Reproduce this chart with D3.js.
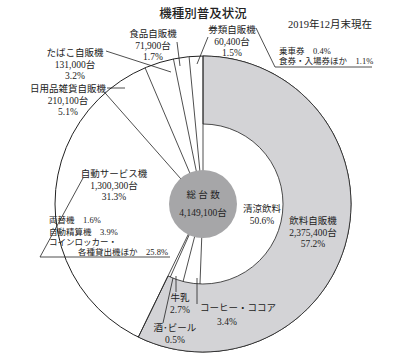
<!DOCTYPE html>
<html>
<head>
<meta charset="utf-8">
<script src="https://cdn.jsdelivr.net/npm/d3@7"></script>
<style>
  body { margin: 0; background: #fff; }
  svg { display: block; }
  text { font-family: "Liberation Serif", "Noto Sans CJK JP", serif; fill: #222; }
  .title { font-family: "Noto Sans CJK JP", sans-serif; font-size: 12.5px; font-weight: 500; }
  .lbl { font-size: 9.5px; }
  .small { font-size: 8.5px; }
  .line { stroke: #222; stroke-width: 0.8; fill: none; }
</style>
</head>
<body>
<div id="chart"></div>
<script>
// --- données ---
const machineTypes  = ["飲料自販機", "自動サービス機", "日用品雑貨自販機", "たばこ自販機", "食品自販機", "券類自販機"];
const machineCounts = ["2,375,400", "1,300,300", "210,100", "131,000", "71,900", "60,400"];
const machineShares = [57.2, 31.3, 5.1, 3.2, 1.7, 1.5];

const drinkTypes  = ["清涼飲料", "コーヒー・ココア", "牛乳", "酒・ビール"];
const drinkShares = [50.6, 3.4, 2.7, 0.5];

const serviceTypes  = ["両替機", "自動精算機", "コインロッカー・各種貸出機ほか"];
const serviceShares = [1.6, 3.9, 25.8];

const ticketTypes  = ["乗車券", "食券・入場券ほか"];
const ticketShares = [0.4, 1.1];

const totalCount = "4,149,100";

// --- mise en page ---
const width = 410, height = 359;
const cx = 203, cy = 204;
const R = 148, rIn = 80, rCore = 34;

const svg = d3.select("#chart").append("svg")
  .attr("width", width).attr("height", height);

const g = svg.append("g").attr("transform", `translate(${cx},${cy})`);

// angles: pie de 100 %
const pie = d3.pie().sort(null).value(d => d);
const slices = pie(machineShares);
const drinkEnd = slices[0].endAngle;
const drinkSlices = d3.pie().sort(null).value(d => d)
  .startAngle(0).endAngle(drinkEnd)(drinkShares);

// cercle extérieur
g.append("circle").attr("r", R).attr("fill", "#fff").attr("stroke", "#222").attr("stroke-width", 1);

// anneau gris du飲料自販機
g.append("path")
  .attr("d", d3.arc().innerRadius(rIn).outerRadius(R)(slices[0]))
  .attr("fill", "#d3d3d6").attr("stroke", "#222").attr("stroke-width", 0.8);

// frontières des secteurs
const pt = (a, r) => [r * Math.sin(a), -r * Math.cos(a)];
slices.forEach(s => {
  const [x, y] = pt(s.startAngle, R);
  g.append("line").attr("class", "line").attr("x1", 0).attr("y1", 0).attr("x2", x).attr("y2", y);
});
// sous-secteurs boissons (jusqu'au cercle intérieur)
drinkSlices.slice(1).forEach(s => {
  const [x, y] = pt(s.startAngle, rIn);
  g.append("line").attr("class", "line").attr("x1", 0).attr("y1", 0).attr("x2", x).attr("y2", y);
});

// disque central
g.append("circle").attr("r", rCore).attr("fill", "#a6a6a8");
g.append("text").attr("class", "lbl").attr("text-anchor", "middle").attr("y", -6).text("総 台 数");
g.append("text").attr("class", "lbl").attr("text-anchor", "middle").attr("y", 12).text(totalCount + "台");

// titre
svg.append("text").attr("class", "title").attr("x", 203).attr("y", 18).attr("text-anchor", "middle").text("機種別普及状況");
svg.append("text").attr("x", 330).attr("y", 28).attr("text-anchor", "middle").style("font-size", "10.5px").text("2019年12月末現在");

// étiquettes à trois lignes
function label3(x, y, lines, anchor = "middle", step = 11.5) {
  const t = svg.append("text").attr("class", "lbl").attr("text-anchor", anchor);
  lines.forEach((l, i) => t.append("tspan").attr("x", x).attr("y", y + i * step).text(l));
}
const pct = v => v.toFixed(1) + "%";
const labelPos = [[313, 224], [114, 177], [68, 92], [75, 56], [153, 37], [232, 33]];
slices.forEach((s, i) => {
  label3(labelPos[i][0], labelPos[i][1], [machineTypes[i], machineCounts[i] + "台", pct(machineShares[i])]);
});

// boissons
label3(262, 212, [drinkTypes[0], pct(drinkShares[0])]);
svg.append("text").attr("class", "lbl").attr("x", 200).attr("y", 311).text(drinkTypes[1]);
svg.append("text").attr("class", "lbl").attr("x", 227).attr("y", 325).attr("text-anchor", "middle").text(pct(drinkShares[1]));
label3(180, 301, [drinkTypes[2], pct(drinkShares[2])]);
label3(175, 331, [drinkTypes[3].replace("・", "･"), pct(drinkShares[3])]);

// détail 自動サービス機
const sv = svg.append("g").attr("class", "small");
sv.append("text").attr("x", 49).attr("y", 223).text(serviceTypes[0] + "　" + pct(serviceShares[0]));
sv.append("text").attr("x", 49).attr("y", 235).text(serviceTypes[1] + "　" + pct(serviceShares[1]));
sv.append("text").attr("x", 49).attr("y", 245).text("コインロッカー・");
sv.append("text").attr("x", 78).attr("y", 255).text("各種貸出機ほか　" + pct(serviceShares[2]));

// détail 券類
const tk = svg.append("g").attr("class", "small");
tk.append("text").attr("x", 279).attr("y", 54).text(ticketTypes[0] + "　" + pct(ticketShares[0]));
tk.append("text").attr("x", 279).attr("y", 64).text(ticketTypes[1] + "　" + pct(ticketShares[1]));

// traits de rappel
const leaders = [
  [[83, 178], [40, 257], [170, 257]],
  [[197, 64], [208, 37]],
  [[256, 28], [275, 67], [372, 67]],
  [[177, 42], [180, 66]],
  [[106, 51], [171, 72]],
  [[107, 88], [125, 88]],
  [[197, 278], [197, 304]],
  [[176, 276], [176, 292]],
  [[173, 278], [163, 323]]
];
leaders.forEach(p => svg.append("path").attr("class", "line").attr("d", d3.line()(p)));
</script>
</body>
</html>
